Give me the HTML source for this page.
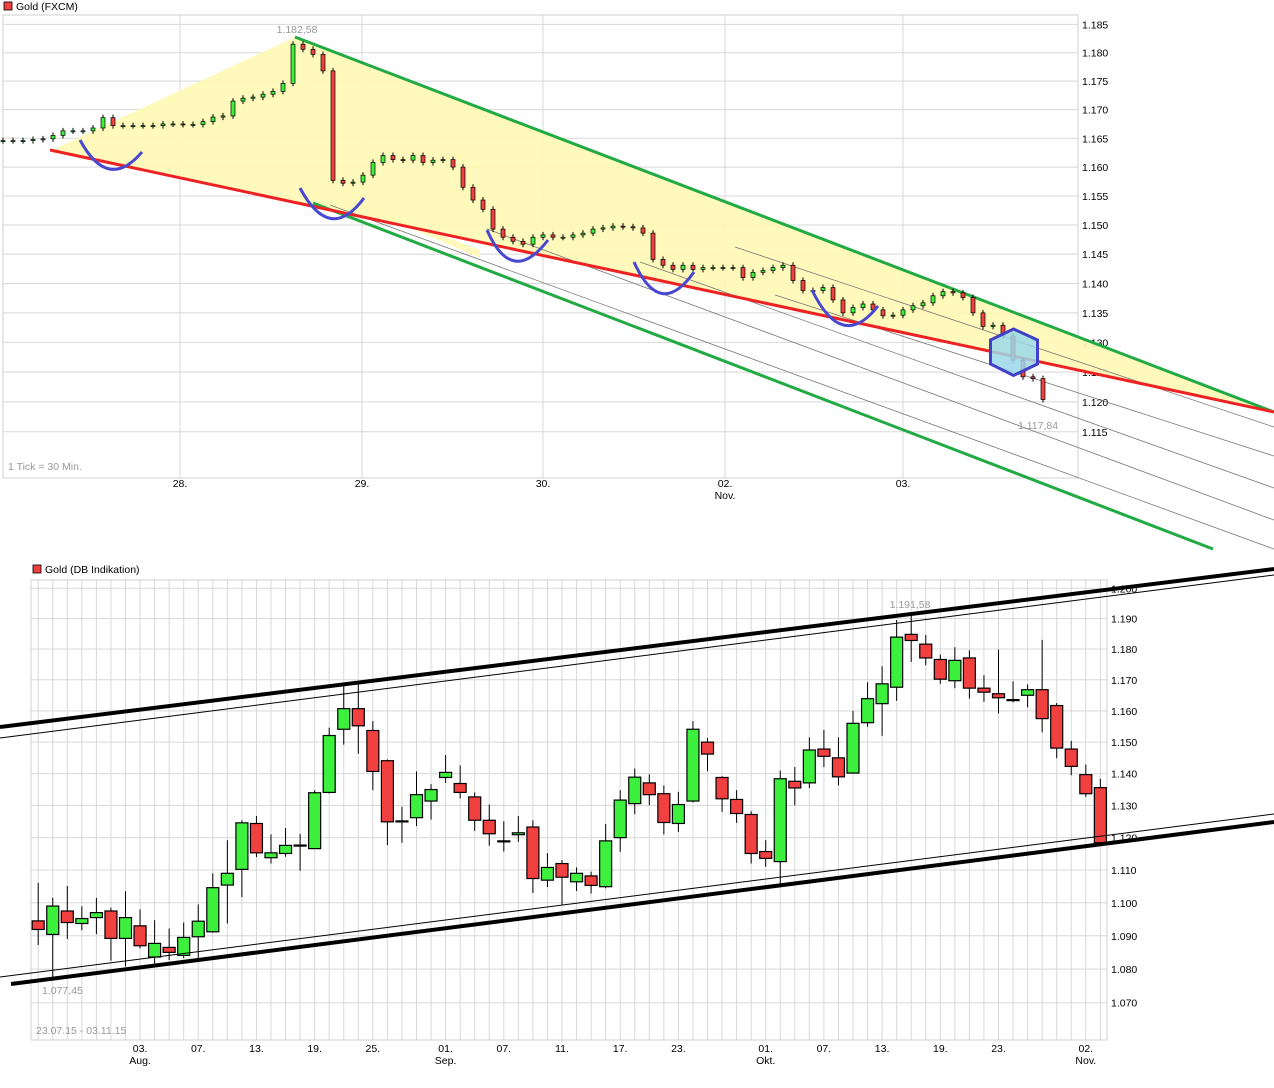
<!DOCTYPE html>
<html><head><meta charset="utf-8">
<style>
html,body{margin:0;padding:0;background:#fff;}
svg{display:block;font-family:"Liberation Sans",sans-serif;}
</style></head>
<body>
<svg id="c" width="1274" height="1088" viewBox="0 0 1274 1088" xmlns="http://www.w3.org/2000/svg">
  <g id="topchart"></g>
  <g id="botchart"></g>
</svg>
<script>
// ---------- TOP CHART DATA (Gold FXCM, 1 tick = 30 min, sampled) ----------
const topCloses = [1.1646,1.1646,1.1646,1.1648,1.1649,1.1655,1.1663,1.1663,1.1663,1.1668,
1.1686,1.1672,1.1672,1.1672,1.1672,1.1672,1.1675,1.1675,1.1674,1.1674,
1.1679,1.1687,1.1689,1.1715,1.1720,1.1722,1.1727,1.1732,1.1746,1.1815,
1.1806,1.1797,1.1768,1.1577,1.1572,1.1574,1.1586,1.1608,1.1620,1.1613,
1.1612,1.1620,1.1608,1.1612,1.1613,1.1600,1.1565,1.1543,1.1527,1.1493,
1.1479,1.1472,1.1467,1.1479,1.1483,1.1479,1.1479,1.1483,1.1486,1.1493,
1.1495,1.1498,1.1497,1.1495,1.1486,1.1441,1.1431,1.1424,1.1431,1.1424,
1.1427,1.1427,1.1427,1.1427,1.1410,1.1419,1.1422,1.1427,1.1431,1.1405,
1.1388,1.1388,1.1393,1.1372,1.1350,1.1359,1.1365,1.1355,1.1345,1.1346,
1.1355,1.1362,1.1367,1.1379,1.1386,1.1384,1.1376,1.1350,1.1327,1.1329,
1.1311,1.1270,1.1242,1.1239,1.1204];
const topTicks = [1.185,1.180,1.175,1.170,1.165,1.160,1.155,1.150,1.145,1.140,1.135,1.130,1.125,1.120,1.115];
const topTickLabels = ["1.185","1.180","1.175","1.170","1.165","1.160","1.155","1.150","1.145","1.140","1.135","1.130","1.125","1.120","1.115"];
const topDayIdx = [17.7,35.9,54.0,72.2,90.0];
const topDayLabels = ["28.","29.","30.","02.","03."];
const topMonthLabels = ["","","","Nov.",""];

// ---------- BOTTOM CHART DATA (Gold DB Indikation, daily) ----------
const bOpen = [1.0945,1.0904,1.0975,1.0937,1.0955,1.0975,1.0892,1.0930,1.0836,1.0865,
1.0841,1.0897,1.0912,1.1054,1.1102,1.1244,1.1138,1.1151,1.1177,1.1166,
1.1341,1.1541,1.1607,1.1537,1.1441,1.1252,1.1262,1.1314,1.1388,1.1369,
1.1327,1.1254,1.1190,1.1209,1.1233,1.1069,1.1120,1.1064,1.1082,1.1049,
1.1200,1.1306,1.1371,1.1337,1.1244,1.1314,1.1500,1.1388,1.1319,1.1272,
1.1157,1.1126,1.1376,1.1371,1.1478,1.1450,1.1402,1.1562,1.1623,1.1676,
1.1848,1.1816,1.1766,1.1697,1.1771,1.1673,1.1655,1.1636,1.1650,1.1668,
1.1617,1.1478,1.1397,1.1356];
const bHigh = [1.1061,1.1015,1.1051,1.0989,1.1015,1.0985,1.1035,1.0980,1.0947,1.0922,
1.0940,1.0995,1.1090,1.1192,1.1254,1.1267,1.1210,1.1230,1.1212,1.1348,
1.1546,1.1681,1.1686,1.1567,1.1445,1.1296,1.1407,1.1367,1.1459,1.1426,
1.1341,1.1303,1.1251,1.1267,1.1254,1.1152,1.1131,1.1108,1.1095,1.1242,
1.1348,1.1416,1.1398,1.1363,1.1343,1.1567,1.1513,1.1392,1.1348,1.1282,
1.1192,1.1410,1.1421,1.1515,1.1539,1.1515,1.1600,1.1692,1.1744,1.1895,
1.1916,1.1846,1.1782,1.1806,1.1796,1.1715,1.1798,1.1695,1.1685,1.1830,
1.1625,1.1504,1.1429,1.1384];
const bLow = [1.0872,1.0775,1.0890,1.0917,1.0905,1.0825,1.0808,1.0862,1.0813,1.0827,
1.0833,1.0833,1.0909,1.0937,1.1017,1.1140,1.1120,1.1141,1.1098,1.1166,
1.1338,1.1492,1.1463,1.1348,1.1177,1.1184,1.1236,1.1256,1.1371,1.1322,
1.1221,1.1175,1.1157,1.1187,1.1030,1.1048,1.0992,1.1036,1.1028,1.1044,
1.1156,1.1273,1.1301,1.1210,1.1218,1.1310,1.1408,1.1280,1.1246,1.1120,
1.1110,1.1054,1.1301,1.1355,1.1421,1.1363,1.1400,1.1549,1.1520,1.1632,
1.1758,1.1747,1.1687,1.1673,1.1639,1.1629,1.1592,1.1627,1.1611,1.1531,
1.1449,1.1395,1.1327,1.1182];
const bClose = [1.0919,1.0990,1.0940,1.0952,1.0970,1.0892,1.0955,1.0870,1.0877,1.0850,
1.0895,1.0944,1.1046,1.1090,1.1246,1.1153,1.1153,1.1176,1.1177,1.1340,
1.1521,1.1607,1.1552,1.1407,1.1249,1.1252,1.1334,1.1350,1.1404,1.1341,
1.1254,1.1212,1.1190,1.1215,1.1074,1.1108,1.1078,1.1090,1.1053,1.1190,
1.1317,1.1389,1.1334,1.1247,1.1303,1.1541,1.1462,1.1321,1.1275,1.1151,
1.1136,1.1384,1.1355,1.1475,1.1455,1.1390,1.1560,1.1639,1.1687,1.1839,
1.1828,1.1771,1.1702,1.1763,1.1673,1.1660,1.1642,1.1636,1.1668,1.1575,
1.1481,1.1423,1.1337,1.1184];
const botTicks = [1.200,1.190,1.180,1.170,1.160,1.150,1.140,1.130,1.120,1.110,1.100,1.090,1.080,1.070];
const botTickLabels = ["1.200","1.190","1.180","1.170","1.160","1.150","1.140","1.130","1.120","1.110","1.100","1.090","1.080","1.070"];
const botDateIdx = [7,11,15,19,23,28,32,36,40,44,50,54,58,62,66,72];
const botDateLabels = ["03.","07.","13.","19.","25.","01.","07.","11.","17.","23.","01.","07.","13.","19.","23.","02."];
const botMonthLabels = ["Aug.","","","","","Sep.","","","","","Okt.","","","","","Nov."];

const NS = "http://www.w3.org/2000/svg";
function mk(parent, tag, attrs, text) {
  const el = document.createElementNS(NS, tag);
  for (const k in attrs) el.setAttribute(k, attrs[k]);
  if (text !== undefined) el.textContent = text;
  parent.appendChild(el);
  return el;
}
const UP = "#3ef03e", DN = "#f04040";

// axis functions
const yT = v => 24.4 + 6691 * Math.log(1.185 / v);
const xT = i => 3 + i * 10;
const yB = v => 588.3 + 3614 * Math.log(1.2 / v);
const xB = i => 38.2 + i * 14.55;

// ===================== TOP CHART =====================
const topG = document.getElementById('topchart');
let e;
e = mk(topG, 'rect', {x:4, y:2, width:8, height:8, fill:DN, stroke:'#000', 'stroke-width':0.8});


e = mk(topG, 'text', {x:16, y:10, 'font-size':10.5, fill:'#000'}, 'Gold (FXCM)');



topTicks.forEach((v, k) => {
  const y = yT(v);
  e = mk(topG, 'line', {x1:3, x2:1078, y1:y, y2:y, stroke:'#d8d8d8', 'stroke-width':1});
  
  
  e = mk(topG, 'text', {x:1082, y:y + 4, 'font-size':10.5, fill:'#000'}, topTickLabels[k]);
  
  
});
topDayIdx.forEach((d, k) => {
  const x = xT(d);
  e = mk(topG, 'line', {x1:x, x2:x, y1:15, y2:478, stroke:'#d8d8d8', 'stroke-width':1});
  
  
  e = mk(topG, 'text', {x:x, y:487, 'font-size':10.5, 'text-anchor':'middle'}, topDayLabels[k]);
  
  
  if (topMonthLabels[k]) {
    e = mk(topG, 'text', {x:x, y:499, 'font-size':10.5, 'text-anchor':'middle'}, topMonthLabels[k]);
    
    
  }
});
e = mk(topG, 'rect', {x:3, y:15, width:1075, height:463, fill:'none', stroke:'#d0d0d0'});



e = mk(topG, 'polygon', {points:'52,150 295,37 1274,412', fill:'#fffab4', opacity:0.9});


e = mk(topG, 'polygon', {points:'332,194 480,250 480,258', fill:'#fffab4', opacity:0.9});



[[735,247,1274,427],[775,295,1274,456],[640,262,1274,488],[487,229,1274,520],[330,205,1274,549]].forEach(l => {
  e = mk(topG, 'line', {x1:l[0], y1:l[1], x2:l[2], y2:l[3], stroke:'#777', 'stroke-width':0.8});
  
  
});
e = mk(topG, 'line', {x1:295, y1:37, x2:1274, y2:412, stroke:'#22aa44', 'stroke-width':3});


e = mk(topG, 'line', {x1:313, y1:203, x2:1213, y2:549, stroke:'#22aa44', 'stroke-width':3});


e = mk(topG, 'line', {x1:50, y1:150, x2:1274, y2:412, stroke:'#ee2222', 'stroke-width':3});



topCloses.forEach((c, i) => {
  const o = i === 0 ? c : topCloses[i - 1];
  const x = xT(i);
  const y1 = yT(Math.max(o, c)), y2 = yT(Math.min(o, c));
  e = mk(topG, 'line', {x1:x, x2:x, y1:y1 - 3, y2:y2 + 3, stroke:'#000', 'stroke-width':1});
  
  
  const h = Math.max(y2 - y1, 1);
  e = mk(topG, 'rect', {x:x - 2, y:y1, width:4, height:h, fill: c >= o ? UP : DN, stroke:'#000', 'stroke-width':0.7});
  
  
});

[[80,140,108,180,142,152],[300,188,330,232,364,198],[487,230,512,275,548,240],[634,262,660,308,694,272],[812,290,842,340,878,306]].forEach(u => {
  e = mk(topG, 'path', {d:`M${u[0]},${u[1]} Q${u[2]},${u[3]+12} ${u[4]},${u[5]}`, fill:'none', stroke:'#4848d0', 'stroke-width':3});
  
  
});
e = mk(topG, 'polygon', {points:'1013.5,329 1037.5,340 1037.5,364 1013.5,375.5 990.5,364 990.5,340', fill:'#9cd8ea', 'fill-opacity':0.85, stroke:'#4040c8', 'stroke-width':3});



e = mk(topG, 'text', {x:297, y:33, 'font-size':10.5, fill:'#999', 'text-anchor':'middle'}, '1.182,58');


e = mk(topG, 'text', {x:1038, y:429, 'font-size':10.5, fill:'#999', 'text-anchor':'middle'}, '1.117,84');


e = mk(topG, 'text', {x:8, y:470, 'font-size':10.5, fill:'#999'}, '1 Tick = 30 Min.');



// ===================== BOTTOM CHART =====================
const botG = document.getElementById('botchart');
e = mk(botG, 'rect', {x:33, y:565, width:8, height:8, fill:DN, stroke:'#000', 'stroke-width':0.8});


e = mk(botG, 'text', {x:45, y:573, 'font-size':10.5}, 'Gold (DB Indikation)');



botTicks.forEach((v, k) => {
  const y = yB(v);
  e = mk(botG, 'line', {x1:31, x2:1107, y1:y, y2:y, stroke:'#d8d8d8'});
  
  
  e = mk(botG, 'text', {x:1111, y:y + 4, 'font-size':10.5}, botTickLabels[k]);
  
  
});
bOpen.forEach((o, i) => {
  const x = xB(i);
  e = mk(botG, 'line', {x1:x, x2:x, y1:580, y2:1040, stroke:'#d8d8d8'});
  
  
});
e = mk(botG, 'rect', {x:31, y:580, width:1076, height:460, fill:'none', stroke:'#d0d0d0'});



botDateIdx.forEach((d, k) => {
  const x = xB(d);
  e = mk(botG, 'text', {x:x, y:1052, 'font-size':10.5, 'text-anchor':'middle'}, botDateLabels[k]);
  
  
  if (botMonthLabels[k]) {
    e = mk(botG, 'text', {x:x, y:1064, 'font-size':10.5, 'text-anchor':'middle'}, botMonthLabels[k]);
    
    
  }
});

bOpen.forEach((o, i) => {
  const c = bClose[i], x = xB(i);
  e = mk(botG, 'line', {x1:x, x2:x, y1:yB(bHigh[i]), y2:yB(bLow[i]), stroke:'#000', 'stroke-width':1});
  
  
  const y1 = yB(Math.max(o, c)), y2 = yB(Math.min(o, c));
  e = mk(botG, 'rect', {x:x - 6, y:y1, width:12, height:Math.max(y2 - y1, 1), fill: c >= o ? UP : DN, stroke:'#000', 'stroke-width':1.2});
  
  
});

e = mk(botG, 'line', {x1:0, y1:727, x2:1274, y2:569, stroke:'#000', 'stroke-width':4});


e = mk(botG, 'line', {x1:0, y1:738, x2:1274, y2:575, stroke:'#000', 'stroke-width':1});


e = mk(botG, 'line', {x1:11, y1:984, x2:1274, y2:822, stroke:'#000', 'stroke-width':4});


e = mk(botG, 'line', {x1:0, y1:977, x2:1274, y2:814, stroke:'#000', 'stroke-width':1});



e = mk(botG, 'text', {x:910, y:608, 'font-size':10.5, fill:'#999', 'text-anchor':'middle'}, '1.191,58');


e = mk(botG, 'text', {x:42, y:994, 'font-size':10.5, fill:'#999'}, '1.077,45');


e = mk(botG, 'text', {x:36, y:1034, 'font-size':10.5, fill:'#999'}, '23.07.15 - 03.11.15');


</script>
</body></html>
